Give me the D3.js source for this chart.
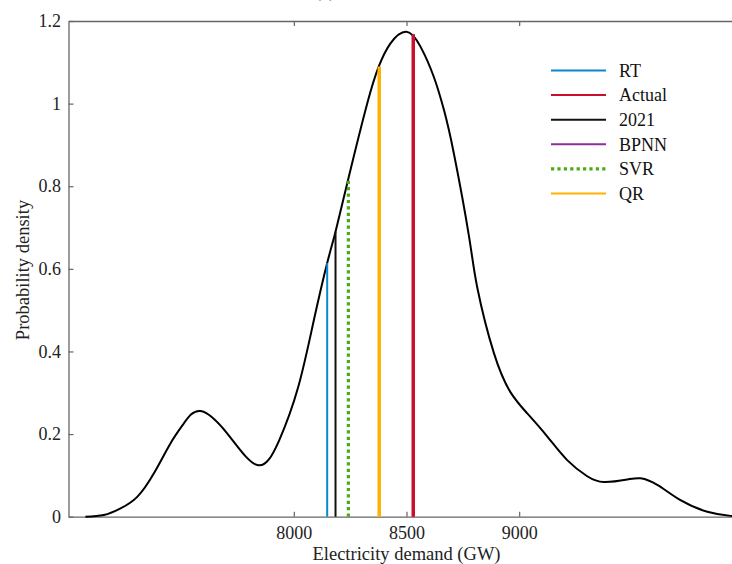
<!DOCTYPE html>
<html>
<head>
<meta charset="utf-8">
<script src="https://cdn.jsdelivr.net/npm/d3@7"></script>
<style>
  body { margin: 0; background: #fff; }
  svg { display: block; font-family: "Liberation Serif", "Times New Roman", serif; }
</style>
</head>
<body>
<div id="chart"></div>
<script>
// density curve
const demand  = [7075, 7157, 7231, 7305, 7379, 7453, 7512, 7585, 7704, 7838, 7935, 8020, 8089, 8148, 8185, 8244, 8326, 8377, 8429, 8500, 8562, 8621, 8666, 8710, 8777, 8814, 8888, 8962, 9036, 9125, 9213, 9302, 9376, 9480, 9539, 9613, 9716, 9835, 9938, 10000];
const density = [0, 0.004, 0.020, 0.048, 0.105, 0.178, 0.226, 0.256, 0.202, 0.125, 0.185, 0.315, 0.476, 0.614, 0.690, 0.823, 1.001, 1.090, 1.146, 1.174, 1.138, 1.065, 0.985, 0.880, 0.680, 0.555, 0.396, 0.301, 0.250, 0.194, 0.137, 0.098, 0.084, 0.090, 0.093, 0.077, 0.040, 0.012, 0.002, 0];

// forecast markers
const modelNames   = ["RT", "Actual", "2021", "BPNN", "SVR", "QR"];
const modelDemand  = [8148, 8530, 8185, 8530, 8242, 8379];
const modelDensity = [0.614, 1.168, 0.690, 1.168, 0.818, 1.090];
const modelColors  = ["#0a86d2", "#c8102e", "#111111", "#8e2c9c", "#4caa16", "#ffb000"];

const xTicks = [8000, 8500, 9000];
const yTicks = [0, 0.2, 0.4, 0.6, 0.8, 1, 1.2];
const yTickLabels = ["0", "0.2", "0.4", "0.6", "0.8", "1", "1.2"];

const W = 732, H = 564;
const margin = {top: 21, left: 68.5, bottom: 47.3};
const plotW = 676, plotH = H - margin.top - margin.bottom;

const svg = d3.select("#chart").append("svg")
    .attr("width", W).attr("height", H);

const g = svg.append("g")
    .attr("transform", `translate(${margin.left},${margin.top})`);

const x = d3.scaleLinear().domain([7000, 10000]).range([0, plotW]);
const y = d3.scaleLinear().domain([0, 1.2]).range([plotH, 0]);

// frame + inward ticks
const xAxis = g.append("g")
    .attr("transform", `translate(0,${plotH})`)
    .call(d3.axisBottom(x).tickValues(xTicks).tickSizeInner(-5).tickSizeOuter(0)
      .tickPadding(10).tickFormat(d3.format("d")));
const topAxis = g.append("g")
    .call(d3.axisTop(x).tickValues(xTicks).tickSizeInner(-5).tickSizeOuter(0).tickFormat(""));
const yAxis = g.append("g")
    .call(d3.axisLeft(y).tickValues(yTicks).tickSizeInner(-5).tickSizeOuter(0)
      .tickPadding(7.5).tickFormat((d, i) => yTickLabels[i]));
const rightAxis = g.append("g")
    .attr("transform", `translate(${plotW},0)`)
    .call(d3.axisRight(y).tickValues(yTicks).tickSizeInner(-5).tickSizeOuter(0).tickFormat(""));

[xAxis, topAxis, yAxis, rightAxis].forEach(a => {
  a.select(".domain").attr("stroke", "#666").attr("stroke-width", 1.3);
  a.selectAll(".tick line").attr("stroke", "#666").attr("stroke-width", 1.2);
  a.selectAll(".tick text").attr("fill", "#222").style("font-size", "18px")
    .style("font-family", "'Liberation Serif', serif");
});

// density curve
const pts = demand.map((d, i) => [d, density[i]]);
g.append("path")
    .datum(pts)
    .attr("fill", "none")
    .attr("stroke", "#000")
    .attr("stroke-width", 2)
    .attr("d", d3.line().x(d => x(d[0])).y(d => y(d[1])).curve(d3.curveNatural));

// vertical markers (BPNN drawn first, sits under Actual)
const widths = {"RT": 2, "Actual": 3.5, "2021": 2, "BPNN": 2, "SVR": 3.2, "QR": 3.5};
const order = [3, 0, 2, 4, 5, 1];
g.selectAll(".marker")
  .data(order)
  .join("line")
    .attr("class", "marker")
    .attr("x1", i => x(modelDemand[i]))
    .attr("x2", i => x(modelDemand[i]))
    .attr("y1", y(0))
    .attr("y2", i => y(modelDensity[i]))
    .attr("stroke", i => modelColors[i])
    .attr("stroke-width", i => widths[modelNames[i]])
    .attr("stroke-dasharray", i => modelNames[i] === "SVR" ? "3.2,3.2" : null);

// legend
const legend = svg.append("g").attr("transform", "translate(551,70.5)");
const row = legend.selectAll("g")
  .data(modelNames)
  .join("g")
    .attr("transform", (d, i) => `translate(0,${i * 24.6})`);
row.append("line")
    .attr("x1", 0).attr("x2", 55)
    .attr("stroke", (d, i) => modelColors[i])
    .attr("stroke-width", d => d === "SVR" ? 3.2 : 2)
    .attr("stroke-dasharray", d => d === "SVR" ? "3.2,3.2" : null);
row.append("text")
    .attr("x", 68).attr("dy", "0.35em")
    .style("font-size", "18px")
    .attr("fill", "#111")
    .text(d => d);

// axis titles
svg.append("text")
    .attr("x", x(8500) + margin.left).attr("y", 560)
    .attr("text-anchor", "middle")
    .style("font-size", "18.5px")
    .attr("fill", "#222")
    .text("Electricity demand (GW)");
svg.append("text")
    .attr("transform", "translate(29,270) rotate(-90)")
    .attr("text-anchor", "middle")
    .style("font-size", "18.5px")
    .attr("fill", "#222")
    .text("Probability density");

// panel letter, mostly cut off at the top
svg.append("text")
    .attr("x", 325).attr("y", -3)
    .attr("text-anchor", "middle")
    .style("font-size", "18px")
    .attr("fill", "#444")
    .text("(a)");
</script>
</body>
</html>
